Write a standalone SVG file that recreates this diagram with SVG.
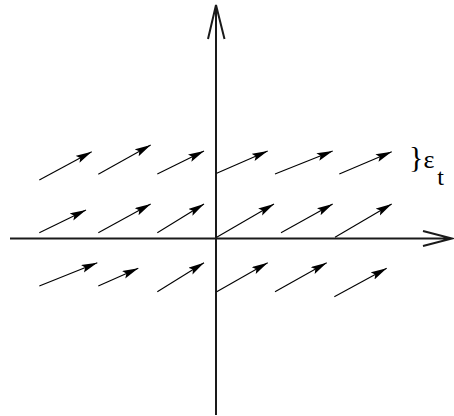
<svg xmlns="http://www.w3.org/2000/svg" width="454" height="416" viewBox="0 0 454 416">
<style>
.axis{stroke:#1a1a1a;stroke-width:2;fill:none}
.v{stroke:#000;stroke-width:1.1;fill:none;marker-end:url(#ah)}
text{font-family:"Liberation Serif","Times New Roman",serif;fill:#000}
</style>
<defs>
<marker id="ah" markerUnits="userSpaceOnUse" markerWidth="17" markerHeight="9" refX="16" refY="4" orient="auto">
<path d="M0,0 L16,4 L0,8 L3,4 z" fill="#000"/>
</marker>
</defs>
<rect width="454" height="416" fill="#fff"/>
<g id="axes">
<path class="axis" d="M10,238.5 H452 M423,231 L452,238.5 L423,246"/>
<path class="axis" d="M216,415 V5 M208,39 L216,5 L224.5,39"/>
</g>
<g id="connectors">
<line class="v" x1="39.3" y1="180" x2="91.7" y2="151.7"/>
<line class="v" x1="98.3" y1="174.3" x2="150.7" y2="145"/>
<line class="v" x1="157.3" y1="174" x2="204" y2="151"/>
<line class="v" x1="216.7" y1="173.3" x2="267.7" y2="151"/>
<line class="v" x1="275" y1="174" x2="332.7" y2="151"/>
<line class="v" x1="339.3" y1="174" x2="391.7" y2="151.7"/>
<line class="v" x1="39.3" y1="232.7" x2="86" y2="210"/>
<line class="v" x1="98.3" y1="232.7" x2="150.7" y2="204"/>
<line class="v" x1="157.3" y1="232.7" x2="204" y2="204"/>
<line class="v" x1="216.7" y1="237.3" x2="274" y2="204"/>
<line class="v" x1="281" y1="232.7" x2="332.7" y2="204"/>
<line class="v" x1="335" y1="237.3" x2="391.7" y2="204"/>
<line class="v" x1="39.3" y1="286" x2="97.3" y2="262.7"/>
<line class="v" x1="98.3" y1="286" x2="138.3" y2="268.3"/>
<line class="v" x1="157.3" y1="291.7" x2="204" y2="262.7"/>
<line class="v" x1="216.7" y1="291.7" x2="267.7" y2="262.7"/>
<line class="v" x1="275" y1="291.7" x2="326.7" y2="262.7"/>
<line class="v" x1="334.3" y1="296.7" x2="386.7" y2="268.3"/>
</g>
<g id="label">
<text x="409" y="166.5" font-size="30">}<tspan dy="1.5" font-size="26">ε</tspan><tspan dx="3" dy="17" font-size="24">t</tspan></text>
</g>
</svg>
